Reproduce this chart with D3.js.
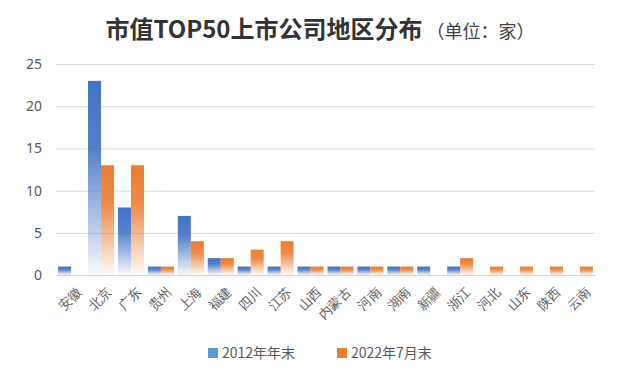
<!DOCTYPE html>
<html><head><meta charset="utf-8">
<script src="https://cdn.jsdelivr.net/npm/d3@7"></script>
<style>
body{margin:0;background:#fff;font-family:"Noto Sans CJK SC","Noto Sans",sans-serif;}
</style></head>
<body><div id="chart"></div>
<script>
var regions=["安徽","北京","广东","贵州","上海","福建","四川","江苏","山西","内蒙古","河南","湖南","新疆","浙江","河北","山东","陕西","云南"];
var y2012=[1,23,8,1,7,2,1,1,1,1,1,1,1,1,0,0,0,0];
var y2022=[0,13,13,1,4,2,3,4,1,1,1,1,0,2,1,1,1,1];
var yTicks=[0,5,10,15,20,25];
var seriesKeys=["s2012","s2022"];
var seriesLabel={s2012:"2012年年末",s2022:"2022年7月末"};
var barColor={s2012:"#4472C4",s2022:"#ED7D31"};
var legendColor={s2012:"#5B9BD5",s2022:"#ED7D31"};

var W=640,H=375, m={top:64,right:45,bottom:100,left:56};
var width=W-m.left-m.right, height=H-m.top-m.bottom;
var svg=d3.select("#chart").append("svg").attr("width",W).attr("height",H);

var defs=svg.append("defs");
seriesKeys.forEach(function(k){
    var gr=defs.append("linearGradient").attr("id","grad-"+k).attr("x1",0).attr("y1",0).attr("x2",0).attr("y2",1);
    gr.append("stop").attr("offset","0%").attr("stop-color",barColor[k]).attr("stop-opacity",1);
    gr.append("stop").attr("offset","35%").attr("stop-color",barColor[k]).attr("stop-opacity",0.9);
    gr.append("stop").attr("offset","100%").attr("stop-color",barColor[k]).attr("stop-opacity",0.04);
});

// title
var t=svg.append("text").attr("x",320).attr("y",38).attr("text-anchor","middle");
t.append("tspan").attr("font-size",24).attr("font-weight","bold").attr("fill","#333").text("市值TOP50上市公司地区分布");
t.append("tspan").attr("font-size",18).attr("fill","#444").attr("dx",4).text("（单位：家）");

var g=svg.append("g").attr("transform","translate("+m.left+","+m.top+")");
var x0=d3.scaleBand().domain(regions).range([0,width]).paddingInner(0.13).paddingOuter(0.07);
var x1=d3.scaleBand().domain(seriesKeys).range([0,x0.bandwidth()]);
var y=d3.scaleLinear().domain([0,25]).range([height,0]);

g.append("g").call(d3.axisLeft(y).tickValues(yTicks).tickSize(-width).tickFormat(""))
    .call(function(s){s.select(".domain").remove();s.selectAll("line").attr("stroke","#d9d9d9");});

var data=regions.map(function(r,i){return {region:r,s2012:y2012[i],s2022:y2022[i]};});
var groups=g.selectAll("g.grp").data(data).enter().append("g")
    .attr("transform",function(d){return "translate("+x0(d.region)+",0)";});
groups.selectAll("rect").data(function(d){return seriesKeys.map(function(k){return {key:k,value:d[k]};});})
    .enter().filter(function(d){return d.value>0;}).append("rect")
    .attr("x",function(d){return x1(d.key);}).attr("width",x1.bandwidth())
    .attr("y",function(d){return y(d.value);}).attr("height",function(d){return height-y(d.value);})
    .attr("fill",function(d){return "url(#grad-"+d.key+")";});

var ya=g.append("g").call(d3.axisLeft(y).tickValues(yTicks).tickSize(0).tickPadding(14));
ya.select(".domain").remove();
ya.selectAll("text").attr("font-size",14).attr("fill","#595959").attr("font-family","Noto Sans, sans-serif");

var xa=g.append("g").attr("transform","translate(0,"+height+")").call(d3.axisBottom(x0).tickSize(0).tickPadding(0));
xa.select(".domain").attr("stroke","#d9d9d9");
xa.selectAll("text").attr("font-size",13).attr("fill","#595959")
    .attr("transform","translate(4,10) rotate(-45)").attr("dy","0.8em").style("text-anchor","end");

var lg=svg.append("g").attr("transform","translate(208,354)");
var lx=0;
seriesKeys.forEach(function(k){
    var it=lg.append("g").attr("transform","translate("+lx+",0)");
    it.append("rect").attr("y",-6).attr("width",10).attr("height",10).attr("fill",legendColor[k]);
    it.append("text").attr("x",14).attr("y",4).attr("font-size",14).attr("fill","#595959").text(seriesLabel[k]);
    lx+=129;
});
</script></body></html>
